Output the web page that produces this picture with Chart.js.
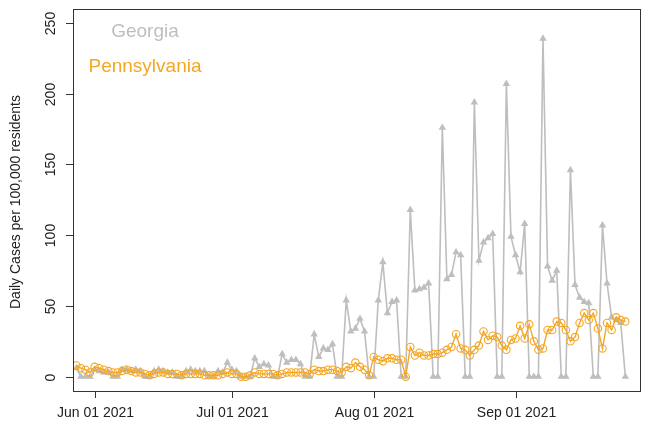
<!DOCTYPE html>
<html>
<head>
<meta charset="utf-8">
<script src="https://cdn.jsdelivr.net/npm/chart.js@4/dist/chart.umd.min.js"></script>
<style>
  body { margin: 0; background: #fff; }
  #wrap { width: 646px; height: 425px; }
</style>
</head>
<body>
<div id="wrap"><canvas id="casesChart" width="646" height="425"></canvas></div>
<script>
// daily cases per 100,000 residents, one value per day starting 2021-05-28
const startDate = '2021-05-28';

const georgiaMay = [6, 0, 0, 0];
const georgiaJun = [5, 4, 3, 3, 0, 0, 5, 5, 4, 5, 4, 0, 0, 4, 5, 4, 3, 3, 0, 0, 4, 5, 4, 4, 4, 0, 0, 4, 3, 10];
const georgiaJul = [5, 4, 0, 0, 0, 13, 7, 9, 8, 0, 0, 16, 10, 12, 12, 9, 0, 0, 30, 14, 20, 19, 23, 0, 0, 54, 32, 34, 41, 32, 0];
const georgiaAug = [0, 54, 81, 45, 53, 54, 0, 0, 118, 61, 62, 63, 66, 0, 0, 176, 69, 72, 88, 86, 0, 0, 194, 82, 95, 98, 101, 0, 0, 207, 99];
const georgiaSep = [86, 74, 108, 0, 0, 0, 239, 78, 68, 75, 0, 0, 146, 65, 56, 53, 52, 0, 0, 107, 66, 42, 40, 38, 0];

const pennMay = [8, 6, 5, 3];
const pennJun = [7, 6, 5, 4, 3, 3, 4, 5, 4, 3, 3, 2, 1, 2, 3, 3, 2, 2, 2, 1, 2, 2, 2, 2, 1, 1, 1, 1, 2, 3];
const pennJul = [2, 2, 0, 0, 1, 3, 2, 2, 2, 2, 1, 2, 3, 3, 3, 3, 3, 2, 5, 4, 4, 5, 5, 4, 3, 7, 6, 10, 7, 5, 1];
const pennAug = [14, 12, 11, 13, 13, 12, 12, 0, 21, 15, 17, 15, 15, 16, 16, 17, 19, 21, 30, 20, 19, 15, 19, 22, 32, 26, 29, 28, 22, 19, 26];
const pennSep = [27, 36, 27, 37, 25, 19, 20, 33, 33, 39, 38, 33, 25, 28, 38, 45, 40, 45, 34, 20, 38, 33, 42, 40, 39];

const xTickDates = ['2021-06-01', '2021-07-01', '2021-08-01', '2021-09-01'];
const xTickLabels = ['Jun 01 2021', 'Jul 01 2021', 'Aug 01 2021', 'Sep 01 2021'];
const yTicks = [0, 50, 100, 150, 200, 250];

const georgia = [].concat(georgiaMay, georgiaJun, georgiaJul, georgiaAug, georgiaSep);
const penn = [].concat(pennMay, pennJun, pennJul, pennAug, pennSep);

// days counted from Jun 01 2021
const DAY = 86400000;
const origin = Date.parse('2021-06-01T00:00:00Z');
function dayNum(s) { return (Date.parse(s + 'T00:00:00Z') - origin) / DAY; }
const firstDay = dayNum(startDate);

const GRAY = '#bebebe';
const ORANGE = '#f5a623';

function toPoints(vals) {
    return vals.map((v, i) => ({ x: firstDay + i, y: v }));
}

// R style box, ticks and labels
const rAxes = {
    id: 'rAxes',
    afterDraw(chart) {
        const ctx = chart.ctx;
        const a = chart.chartArea;
        const xs = chart.scales.x, ys = chart.scales.y;
        ctx.save();
        ctx.strokeStyle = '#333';
        ctx.lineWidth = 1;
        ctx.strokeRect(Math.round(a.left) + 0.5, Math.round(a.top) + 0.5,
                       Math.round(a.right - a.left) - 1, Math.round(a.bottom - a.top));

        ctx.fillStyle = '#222';
        ctx.font = '14px "Liberation Sans", Arial, sans-serif';
        ctx.textAlign = 'center';
        ctx.textBaseline = 'alphabetic';

        // x axis
        xTickDates.forEach((d, i) => {
            const px = Math.round(xs.getPixelForValue(dayNum(d))) + 0.5;
            ctx.beginPath();
            ctx.moveTo(px, a.bottom);
            ctx.lineTo(px, a.bottom + 7);
            ctx.stroke();
            ctx.fillText(xTickLabels[i], px, 417);
        });

        // y axis, labels parallel to the axis
        yTicks.forEach(v => {
            const py = Math.round(ys.getPixelForValue(v)) + 0.5;
            ctx.beginPath();
            ctx.moveTo(a.left, py);
            ctx.lineTo(a.left - 7, py);
            ctx.stroke();
            ctx.save();
            ctx.translate(55, py);
            ctx.rotate(-Math.PI / 2);
            ctx.fillText(String(v), 0, 0);
            ctx.restore();
        });

        ctx.save();
        ctx.translate(20, (a.top + a.bottom) / 2 + 2);
        ctx.rotate(-Math.PI / 2);
        ctx.fillText('Daily Cases per 100,000 residents', 0, 0);
        ctx.restore();

        // series names
        ctx.font = '19px "Liberation Sans", Arial, sans-serif';
        ctx.fillStyle = GRAY;
        ctx.fillText('Georgia', 145, 37);
        ctx.fillStyle = ORANGE;
        ctx.fillText('Pennsylvania', 145, 72);
        ctx.restore();
    }
};

const ctx = document.getElementById('casesChart').getContext('2d');
window.myChart = new Chart(ctx, {
    type: 'line',
    data: {
        datasets: [{
            label: 'Pennsylvania',
            data: toPoints(penn),
            borderColor: ORANGE,
            borderWidth: 1.4,
            pointStyle: 'circle',
            pointRadius: 3.7,
            pointBorderWidth: 1.1,
            pointBorderColor: ORANGE,
            pointBackgroundColor: 'rgba(0,0,0,0)',
            tension: 0,
            order: 0
        }, {
            label: 'Georgia',
            data: toPoints(georgia),
            borderColor: GRAY,
            borderWidth: 1.6,
            pointStyle: 'triangle',
            pointRadius: 4.3,
            pointBorderWidth: 0,
            pointBackgroundColor: GRAY,
            pointBorderColor: GRAY,
            tension: 0,
            order: 1
        }]
    },
    options: {
        responsive: false,
        animation: false,
        devicePixelRatio: 1,
        layout: { padding: { top: 9, right: 2, left: 0, bottom: 0 } },
        plugins: { legend: { display: false }, tooltip: { enabled: false } },
        scales: {
            x: {
                type: 'linear',
                min: -4.72,
                max: 119.4,
                grid: { display: false },
                border: { display: false },
                ticks: { display: false },
                afterFit: s => { s.height = 34; }
            },
            y: {
                min: -10.1,
                max: 259.9,
                grid: { display: false },
                border: { display: false },
                ticks: { display: false },
                afterFit: s => { s.width = 73; }
            }
        }
    },
    plugins: [rAxes]
});
</script>
</body>
</html>
